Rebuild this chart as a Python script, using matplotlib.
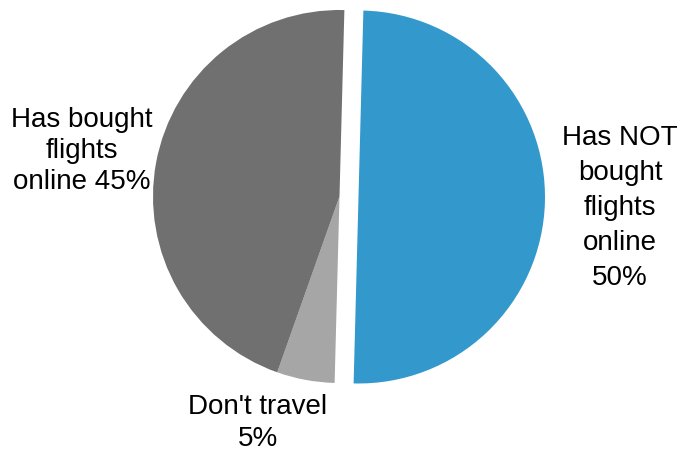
#libraries for plotting
import matplotlib
matplotlib.use("Agg")
import matplotlib.pyplot as plt

#data (clockwise from the top)
labels = ["Has NOT\nbought\nflights\nonline\n50%", "Don't travel\n5%", "Has bought\nflights\nonline 45%"]
shares = [50, 5, 45]
colors = ["#3399CC", "#A6A6A6", "#707070"]

plt.rcParams["font.family"] = ["Liberation Sans", "DejaVu Sans"]

fig = plt.figure(figsize=(6.98, 4.51), dpi=100)
ax = fig.add_axes([0, 0, 1, 1])

# pie drawn in pixel units, so explode is in pixels too
ax.pie(shares, colors=colors, explode=[19, 0, 0], startangle=88.5, counterclock=False,
       radius=186.5, center=(339.5, 254.5), frame=True,
       wedgeprops={"linewidth": 0})
ax.set_xlim(0, 698)
ax.set_ylim(0, 451)
ax.set_aspect("equal")
ax.axis("off")

# label positions (pixels from the top-left) and line spacing
label_pos = [(620, 208), (258, 423), (82, 151)]
spacing = [1.46, 1.27, 1.23]
for text, (x, y), ls in zip(labels, label_pos, spacing):
    ax.text(x, 451 - y, text, ha="center", va="center", multialignment="center",
            fontsize=20, color="black", linespacing=ls)

fig.savefig("out.png", dpi=100)
